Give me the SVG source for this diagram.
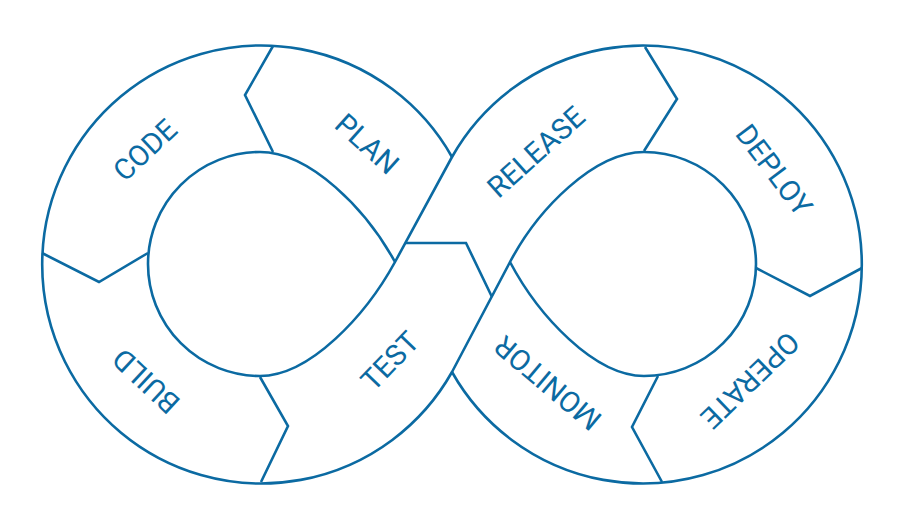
<svg xmlns="http://www.w3.org/2000/svg" width="900" height="530" viewBox="0 0 900 530">
  <style>
    .ln { fill: none; stroke: #0b6aa2; stroke-width: 2.6; stroke-linejoin: miter; }
    .lbl { fill: #0b6aa2; font-family: Roboto, "Liberation Sans", sans-serif; font-size: 29px; text-anchor: middle; dominant-baseline: central; }
  </style>
  <rect width="900" height="530" fill="#ffffff"/>
  <g id="outline">
    <path class="ln" d="M452,157 A219,219 0 1 0 452,372 L510,262 C538,209 594,152 644,152 A112,112 0 0 1 644,376 C594,376 538,315 510,262"/>
    <path class="ln" d="M452,372 A219,219 0 1 0 452,157 L395,262 C366,315 310,376 260,376 A112,112 0 0 1 260,152 C310,152 366,209 395,262"/>
  </g>
  <g id="connectors">
    <polyline class="ln" points="273,46 245,95 273,152"/>
    <polyline class="ln" points="42,253 99,282 148,253"/>
    <polyline class="ln" points="260,377 288,426 261,482"/>
    <polyline class="ln" points="405,243 466,243 492,297"/>
    <polyline class="ln" points="645,47 677,99 644,151"/>
    <polyline class="ln" points="756,268 810,296 862,268"/>
    <polyline class="ln" points="658,376 632,427 662,482"/>
  </g>
  <g id="code"><text class="lbl" transform="translate(145,150) rotate(-43)">CODE</text></g>
  <g id="plan"><text class="lbl" transform="translate(367,144) rotate(42)">PLAN</text></g>
  <g id="build"><text class="lbl" transform="translate(146,381) rotate(-137)">BUILD</text></g>
  <g id="test"><text class="lbl" transform="translate(390,361) rotate(-46)">TEST</text></g>
  <g id="release"><text class="lbl" transform="translate(536,152) rotate(-42)">RELEASE</text></g>
  <g id="deploy"><text class="lbl" transform="translate(774,170) rotate(53)">DEPLOY</text></g>
  <g id="operate"><text class="lbl" transform="translate(750,380) rotate(136)">OPERATE</text></g>
  <g id="monitor"><text class="lbl" transform="translate(548,383) rotate(220)">MONITOR</text></g>
</svg>
